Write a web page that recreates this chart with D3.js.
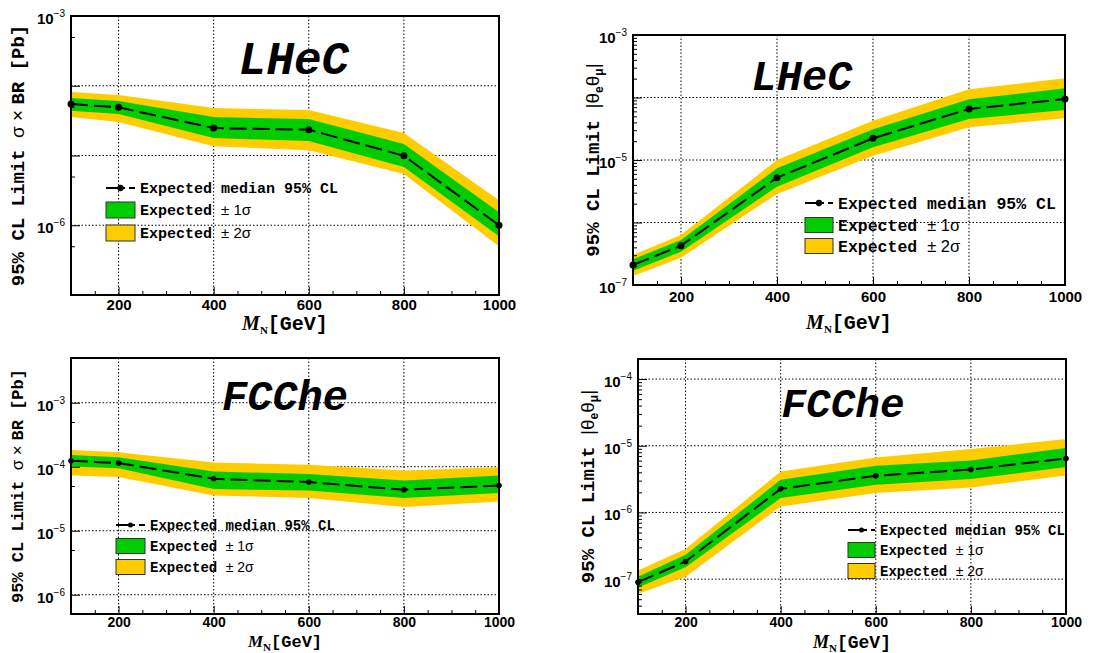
<!DOCTYPE html>
<html>
<head>
<meta charset="utf-8">
<script src="https://cdn.jsdelivr.net/npm/d3@7"></script>
<style>
  body { margin: 0; background: #fff; }
  svg { display: block; }
</style>
</head>
<body>
<svg id="chart" width="1104" height="653"></svg>
<script>
// Heavy-neutrino mass points [GeV]
const massGeV = [100, 200, 400, 600, 800, 1000];
const xTickLabels = [200, 400, 600, 800, 1000];
const xGridValues = [200, 400, 600, 800];
const xMinorValues = [150, 250, 300, 350, 450, 500, 550, 650, 700, 750, 850, 900, 950];

// LHeC: 95% CL limit on sigma x BR [pb]
const lhecXsMedian = [5.46e-5, 4.9e-5, 2.47e-5, 2.34e-5, 9.9e-6, 1.0e-6];
const lhecXsUp1 = [6.67e-5, 6.03e-5, 3.56e-5, 3.33e-5, 1.46e-5, 1.54e-6];
const lhecXsDn1 = [4.38e-5, 3.93e-5, 1.78e-5, 1.61e-5, 6.82e-6, 6.98e-7];
const lhecXsUp2 = [8.13e-5, 7.36e-5, 4.79e-5, 4.48e-5, 2.10e-5, 2.29e-6];
const lhecXsDn2 = [3.56e-5, 3.01e-5, 1.36e-5, 1.19e-5, 5.41e-6, 5.01e-7];

// LHeC: 95% CL limit on |theta_e theta_mu|
const lhecMixMedian = [2.09e-7, 4.26e-7, 5.21e-6, 2.22e-5, 6.55e-5, 9.46e-5];
const lhecMixUp1 = [2.58e-7, 5.25e-7, 7.36e-6, 3.10e-5, 9.36e-5, 1.40e-4];
const lhecMixDn1 = [1.69e-7, 3.41e-7, 3.74e-6, 1.60e-5, 4.53e-5, 6.31e-5];
const lhecMixUp2 = [3.02e-7, 6.31e-7, 1.0e-5, 4.26e-5, 1.35e-4, 2.03e-4];
const lhecMixDn2 = [1.39e-7, 2.73e-7, 2.86e-6, 1.17e-5, 3.34e-5, 4.65e-5];

// FCChe: 95% CL limit on sigma x BR [pb]
const fccXsMedian = [1.24e-4, 1.14e-4, 6.48e-5, 5.75e-5, 4.37e-5, 5.09e-5];
const fccXsUp1 = [1.53e-4, 1.41e-4, 8.42e-5, 7.67e-5, 6.10e-5, 7.30e-5];
const fccXsDn1 = [1.01e-4, 9.51e-5, 4.48e-5, 4.26e-5, 3.24e-5, 3.88e-5];
const fccXsUp2 = [1.83e-4, 1.69e-4, 1.16e-4, 1.07e-4, 8.73e-5, 9.86e-5];
const fccXsDn2 = [7.30e-5, 6.89e-5, 3.56e-5, 3.24e-5, 2.35e-5, 2.87e-5];

// FCChe: 95% CL limit on |theta_e theta_mu|
const fccMixMedian = [9.0e-8, 1.84e-7, 2.26e-6, 3.55e-6, 4.41e-6, 6.44e-6];
const fccMixUp1 = [1.09e-7, 2.32e-7, 3.09e-6, 5.01e-6, 6.01e-6, 9.23e-6];
const fccMixDn1 = [7.48e-8, 1.51e-7, 1.64e-6, 2.60e-6, 3.16e-6, 4.79e-6];
const fccMixUp2 = [1.35e-7, 2.82e-7, 4.11e-6, 6.67e-6, 8.91e-6, 1.26e-5];
const fccMixDn2 = [6.02e-8, 1.09e-7, 1.23e-6, 1.95e-6, 2.37e-6, 3.58e-6];

const legendLabels = ['Expected median 95% CL', 'Expected \u00b1 1\u03c3', 'Expected \u00b1 2\u03c3'];

const GREEN = '#00cc00';
const YELLOW = '#ffcc00';
const MONO = '"Liberation Mono", "DejaVu Sans Mono", monospace';
const SANS = '"Liberation Sans", Arial, sans-serif';

const panels = [
  {
    title: 'LHeC', kind: 'xs',
    median: lhecXsMedian, up1: lhecXsUp1, dn1: lhecXsDn1, up2: lhecXsUp2, dn2: lhecXsDn2,
    yDomain: [1e-7, 1e-3], yLabelExp: [-3, -6], yGridExp: [-4, -5, -6], minorMults: [5],
    box: { left: 71, right: 499, top: 16, bottom: 295 },
    titlePos: [294, 74, 46], yTitle: [24, 19], xTitleY: 330, xTitleSize: 20, xLabelY: 310, xLabelSize: 15, r: 3.5,
    legend: { x: 106, w: 29, rows: [188, 210, 233], h: 16, font: 15 }
  },
  {
    title: 'LHeC', kind: 'mix',
    median: lhecMixMedian, up1: lhecMixUp1, dn1: lhecMixDn1, up2: lhecMixUp2, dn2: lhecMixDn2,
    yDomain: [1e-7, 1e-3], yLabelExp: [-3, -5, -7], yGridExp: [-4, -5, -6], minorMults: [2, 3, 4, 5, 6, 7, 8, 9],
    box: { left: 633, right: 1065, top: 35, bottom: 285 },
    titlePos: [802, 90, 42], yTitle: [599, 19], xTitleY: 329, xTitleSize: 20, xLabelY: 302, xLabelSize: 15, r: 3.5,
    legend: { x: 805, w: 28, rows: [203, 225, 246], h: 15, font: 16.5 }
  },
  {
    title: 'FCChe', kind: 'xs',
    median: fccXsMedian, up1: fccXsUp1, dn1: fccXsDn1, up2: fccXsUp2, dn2: fccXsDn2,
    yDomain: [5e-7, 5e-3], yLabelExp: [-3, -4, -5, -6], yGridExp: [-3, -4, -5, -6], minorMults: [5],
    box: { left: 71, right: 499, top: 358, bottom: 614 },
    titlePos: [285, 410, 42], yTitle: [23, 17], xTitleY: 647, xTitleSize: 17, xLabelY: 627, xLabelSize: 14, r: 2.8,
    legend: { x: 116, w: 29, rows: [525, 546, 567], h: 15, font: 14 }
  },
  {
    title: 'FCChe', kind: 'mix',
    median: fccMixMedian, up1: fccMixUp1, dn1: fccMixDn1, up2: fccMixUp2, dn2: fccMixDn2,
    yDomain: [3e-8, 2e-4], yLabelExp: [-4, -5, -6, -7], yGridExp: [-4, -5, -6, -7], minorMults: [2, 3, 4, 5, 6, 7, 8, 9],
    box: { left: 638, right: 1066, top: 359, bottom: 614 },
    titlePos: [843, 417, 41], yTitle: [594, 19], xTitleY: 648, xTitleSize: 18, xLabelY: 627, xLabelSize: 14, r: 2.8,
    legend: { x: 848, w: 27, rows: [530, 550, 571], h: 15, font: 14 }
  }
];

const svg = d3.select('#chart');

panels.forEach((p, i) => {
  const b = p.box;
  const x = d3.scaleLinear().domain([100, 1000]).range([b.left, b.right]);
  const y = d3.scaleLog().domain(p.yDomain).range([b.bottom, b.top]);
  const g = svg.append('g').attr('class', `panel-${i}`);

  const clipId = `clip-${i}`;
  g.append('clipPath').attr('id', clipId)
    .append('rect')
    .attr('x', b.left).attr('y', b.top)
    .attr('width', b.right - b.left).attr('height', b.bottom - b.top);

  // dotted grid
  const grid = g.append('g').attr('stroke', '#000').attr('stroke-width', 1).attr('stroke-dasharray', '1.5,2');
  grid.selectAll('line.vx').data(xGridValues).join('line')
    .attr('x1', d => x(d)).attr('x2', d => x(d))
    .attr('y1', b.top).attr('y2', b.bottom);
  grid.selectAll('line.hy').data(p.yGridExp).join('line')
    .attr('x1', b.left).attr('x2', b.right)
    .attr('y1', d => y(Math.pow(10, d))).attr('y2', d => y(Math.pow(10, d)));

  const rows = massGeV.map((m, k) => ({
    m, med: p.median[k], u1: p.up1[k], d1: p.dn1[k], u2: p.up2[k], d2: p.dn2[k]
  }));

  const band2 = d3.area().x(d => x(d.m)).y0(d => y(d.d2)).y1(d => y(d.u2));
  const band1 = d3.area().x(d => x(d.m)).y0(d => y(d.d1)).y1(d => y(d.u1));
  const medLine = d3.line().x(d => x(d.m)).y(d => y(d.med));

  const plot = g.append('g').attr('clip-path', `url(#${clipId})`);
  plot.append('path').datum(rows).attr('d', band2).attr('fill', YELLOW);
  plot.append('path').datum(rows).attr('d', band1).attr('fill', GREEN);

  g.append('path').datum(rows).attr('d', medLine)
    .attr('fill', 'none').attr('stroke', '#000').attr('stroke-width', 2)
    .attr('stroke-dasharray', '17,6');
  g.selectAll('circle.pt').data(rows).join('circle')
    .attr('cx', d => x(d.m)).attr('cy', d => y(d.med)).attr('r', p.r).attr('fill', '#000');

  // x axis: ticks point inward
  const xAxis = g.append('g').attr('transform', `translate(0,${b.bottom})`)
    .call(d3.axisBottom(x).tickValues(xTickLabels).tickSize(-8).tickFormat(d3.format('d')));
  xAxis.select('.domain').remove();
  xAxis.selectAll('line').attr('stroke-width', 1);
  xAxis.selectAll('text')
    .attr('y', p.xLabelY - b.bottom).attr('dy', null)
    .style('font-family', SANS).style('font-weight', 'bold').style('font-size', p.xLabelSize + 'px').attr('fill', '#000');
  const xMinor = g.append('g').attr('transform', `translate(0,${b.bottom})`)
    .call(d3.axisBottom(x).tickValues(xMinorValues).tickSize(-4).tickFormat(''));
  xMinor.select('.domain').remove();

  // y axis: decade ticks with 10^n labels, minor ticks inward
  const [lo, hi] = p.yDomain;
  const decades = d3.range(Math.floor(Math.log10(lo)), Math.ceil(Math.log10(hi)) + 1);
  const majors = decades.map(e => Math.pow(10, e)).filter(v => v >= lo * 0.999 && v <= hi * 1.001);
  const minors = [];
  decades.forEach(e => p.minorMults.forEach(mu => {
    const v = mu * Math.pow(10, e);
    if (v > lo && v < hi) minors.push(v);
  }));

  const yAxis = g.append('g').attr('transform', `translate(${b.left},0)`)
    .call(d3.axisLeft(y).tickValues(majors).tickSize(-9).tickFormat(''));
  yAxis.select('.domain').remove();
  const yMinor = g.append('g').attr('transform', `translate(${b.left},0)`)
    .call(d3.axisLeft(y).tickValues(minors).tickSize(-4).tickFormat(''));
  yMinor.select('.domain').remove();

  p.yLabelExp.forEach(e => {
    const t = g.append('text')
      .attr('x', b.left - 6).attr('y', y(Math.pow(10, e)) + 8)
      .attr('text-anchor', 'end')
      .style('font-family', SANS).style('font-weight', 'bold').style('font-size', '15px');
    t.append('tspan').text('10');
    t.append('tspan').attr('dy', -7).style('font-size', '10px').style('font-weight', 'normal').text('\u2212' + Math.abs(e));
  });

  // frame
  g.append('rect')
    .attr('x', b.left).attr('y', b.top)
    .attr('width', b.right - b.left).attr('height', b.bottom - b.top)
    .attr('fill', 'none').attr('stroke', '#000').attr('stroke-width', 2);

  // big title
  g.append('text')
    .attr('x', p.titlePos[0]).attr('y', p.titlePos[1])
    .attr('text-anchor', 'middle')
    .style('font-family', MONO).style('font-weight', 'bold').style('font-style', 'italic')
    .style('font-size', p.titlePos[2] + 'px')
    .text(p.title);

  // y title
  const cy = (b.top + b.bottom) / 2;
  const yt = g.append('text')
    .attr('transform', `translate(${p.yTitle[0]},${cy}) rotate(-90)`)
    .attr('text-anchor', 'middle')
    .style('font-family', MONO).style('font-weight', 'bold').style('font-size', p.yTitle[1] + 'px');
  if (p.kind === 'xs') {
    yt.append('tspan').text('95% CL Limit ');
    yt.append('tspan').style('font-family', SANS).style('font-weight', 'normal').text('\u03c3 \u00d7 ');
    yt.append('tspan').text('BR [Pb]');
  } else {
    yt.append('tspan').text('95% CL Limit ');
    yt.append('tspan').style('font-family', SANS).style('font-weight', 'normal').text('|\u03b8');
    yt.append('tspan').attr('dy', 4).style('font-family', SANS).style('font-size', '12px').text('e');
    yt.append('tspan').attr('dy', -4).style('font-family', SANS).style('font-weight', 'normal').text('\u03b8');
    yt.append('tspan').attr('dy', 4).style('font-family', SANS).style('font-size', '12px').text('\u03bc');
    yt.append('tspan').attr('dy', -4).style('font-family', SANS).style('font-weight', 'normal').text('|');
  }

  // x title
  const xc = (b.left + b.right) / 2;
  const xt = g.append('text')
    .attr('x', xc).attr('y', p.xTitleY)
    .attr('text-anchor', 'middle')
    .style('font-weight', 'bold').style('font-size', p.xTitleSize + 'px');
  xt.append('tspan').style('font-family', '"Liberation Serif", serif').style('font-style', 'italic').text('M');
  xt.append('tspan').attr('dy', 4).style('font-family', '"Liberation Serif", serif').style('font-size', '11px').text('N');
  xt.append('tspan').attr('dy', -4).style('font-family', MONO).text('[GeV]');

  // legend
  const L = p.legend;
  const lg = g.append('g');
  lg.append('line')
    .attr('x1', L.x).attr('x2', L.x + L.w)
    .attr('y1', L.rows[0]).attr('y2', L.rows[0])
    .attr('stroke', '#000').attr('stroke-width', 2).attr('stroke-dasharray', '19,4,6');
  lg.append('circle').attr('cx', L.x + L.w / 2).attr('cy', L.rows[0]).attr('r', p.r * 0.9).attr('fill', '#000');
  [GREEN, YELLOW].forEach((c, k) => {
    lg.append('rect')
      .attr('x', L.x).attr('y', L.rows[k + 1] - L.h / 2)
      .attr('width', L.w).attr('height', L.h)
      .attr('fill', c).attr('stroke', '#333').attr('stroke-width', 1);
  });
  legendLabels.forEach((txt, k) => {
    const t = lg.append('text')
      .attr('x', L.x + L.w + 5).attr('y', L.rows[k]).attr('dy', '0.35em')
      .style('font-family', MONO).style('font-weight', 'bold').style('font-size', L.font + 'px');
    if (k === 0) {
      t.text(txt);
    } else {
      const parts = txt.split(' ');
      t.append('tspan').text(parts[0] + ' ');
      t.append('tspan').style('font-family', SANS).style('font-weight', 'normal').text(parts.slice(1).join(' '));
    }
  });
});
</script>
</body>
</html>
